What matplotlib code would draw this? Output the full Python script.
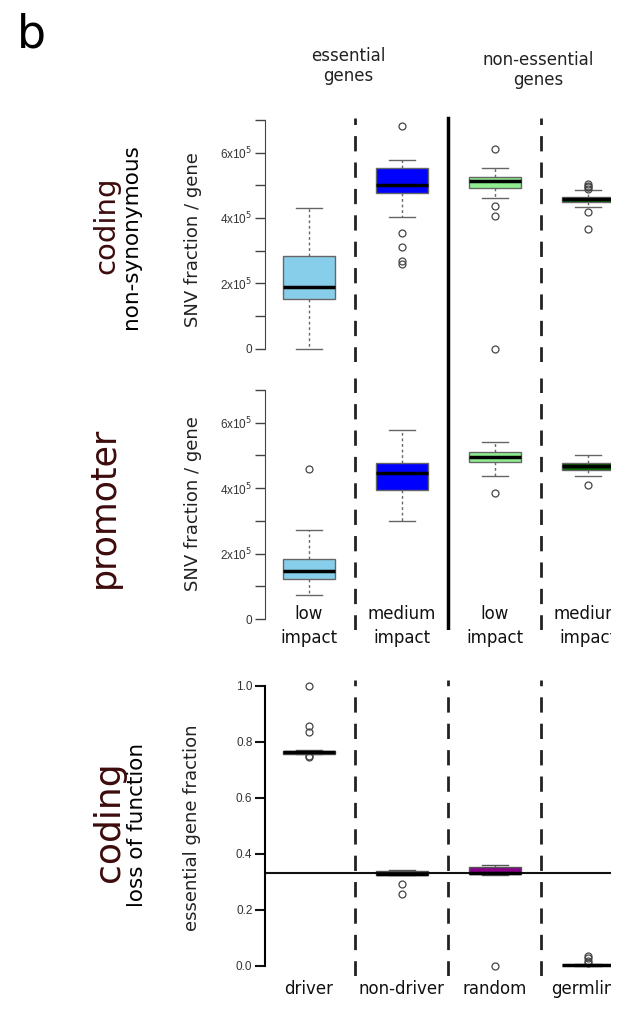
import numpy as np
import matplotlib.pyplot as plt
from matplotlib.patches import Rectangle

plt.rcParams['font.family'] = 'DejaVu Sans'

### data (units of 1e5 for the SNV panels)
pos = [1, 2, 3, 4]

# coding, non-synonymous : whislo, q1, med, q3, whishi
cod_stats = [[0.0, 1.53, 1.89, 2.84, 4.30],
             [4.02, 4.77, 5.01, 5.54, 5.78],
             [4.60, 4.92, 5.14, 5.24, 5.52],
             [4.32, 4.48, 4.57, 4.65, 4.86]]
cod_fliers = [[],
              [6.82, 3.53, 3.10, 2.69, 2.59],
              [6.11, 4.35, 4.06, 0.0],
              [5.03, 4.97, 4.93, 4.88, 4.17, 3.66]]

# promoter
pro_stats = [[0.73, 1.22, 1.48, 1.84, 2.72],
             [3.00, 3.95, 4.45, 4.78, 5.78],
             [4.37, 4.81, 4.95, 5.11, 5.42],
             [4.37, 4.56, 4.68, 4.78, 5.02]]
pro_fliers = [[4.59], [], [3.85], [4.09]]

# coding, loss of function (essential gene fraction)
lof_stats = [[0.757, 0.758, 0.764, 0.768, 0.770],
             [0.324, 0.325, 0.327, 0.340, 0.342],
             [0.326, 0.327, 0.331, 0.353, 0.360],
             [0.000, 0.002, 0.003, 0.005, 0.007]]
lof_fliers = [[1.0, 0.857, 0.836, 0.75, 0.745],
              [0.294, 0.256],
              [0.0],
              [0.035, 0.027, 0.018, 0.012]]
lof_expected = 1/3

snv_colors = ['skyblue', 'blue', 'lightgreen', 'darkgreen']
lof_colors = ['#333333', '#bebebe', '#8b008b', '#333333']
snv_labels = ['low\nimpact', 'medium\nimpact', 'low\nimpact', 'medium\nimpact']
lof_labels = ['driver', 'non-driver', 'random', 'germline']

W, H = 621, 1014
fig = plt.figure(figsize=(W/100, H/100), dpi=100)

def box_ax(top, bot):
    # axes from pixel rows (top, bot), left spine at x=265 px
    return fig.add_axes([265/W, 1-bot/H, 1-265/W, (bot-top)/H])

def draw_boxes(ax, stats, fliers, colors, edge):
    bx = []
    for s, f in zip(stats, fliers):
        bx.append(dict(whislo=s[0], q1=s[1], med=s[2], q3=s[3], whishi=s[4], fliers=f))
    ax.bxp(bx, positions=pos, widths=0.56, capwidths=0.28, patch_artist=True,
           boxprops=dict(edgecolor=edge, linewidth=1),
           medianprops=dict(color='black', linewidth=2.5),
           whiskerprops=dict(color=edge, linewidth=1, linestyle=(0, (2, 2))),
           capprops=dict(color=edge, linewidth=1),
           flierprops=dict(marker='o', markersize=5, markerfacecolor='none',
                           markeredgecolor='#444444', markeredgewidth=0.9))
    for p, c in zip(ax.patches, colors):
        p.set_facecolor(c)
    ax.set_xlim(0.53, 0.53 + (W-265)/93.0)
    ax.set_xticks([])
    for s in ['top', 'right', 'bottom']:
        ax.spines[s].set_visible(False)

def snv_axis(ax, ylim):
    ax.set_ylim(*ylim)
    ax.set_yticks(np.arange(0, 8))
    ax.set_yticklabels(['0', '', r'2x10$^5$', '', r'4x10$^5$', '', r'6x10$^5$', ''],
                       fontsize=8.5, family='Liberation Sans', color='#333333')
    ax.tick_params(axis='y', length=7, width=1, color='#444444', pad=2)
    ax.spines['left'].set_bounds(0, 7)
    ax.spines['left'].set_color('#444444')
    ax.text(-0.202, 0.5, 'SNV fraction / gene', transform=ax.transAxes,
            rotation=90, ha='center', va='center', fontsize=13, color='#222222')
    for x in [1.5, 3.5]:
        ax.axvline(x, color='#222222', linewidth=2, dashes=(5.5, 4))

dash = dict(color='#222222', linewidth=2, dashes=(5.5, 4))

### coding non-synonymous
ax1 = box_ax(118, 362)
draw_boxes(ax1, cod_stats, cod_fliers, snv_colors, '#666666')
snv_axis(ax1, ((348.7-362)/32.7, (348.7-118)/32.7))
ax1.axvline(2.5, ymin=-16/244, ymax=1, color='black', linewidth=2.5, clip_on=False)

### promoter
ax2 = box_ax(378, 630)
draw_boxes(ax2, pro_stats, pro_fliers, snv_colors, '#666666')
snv_axis(ax2, ((619-630)/32.7, (619-378)/32.7))
ax2.axvline(2.5, color='black', linewidth=2.5)
for p, lab in zip(pos, snv_labels):
    ax2.text(p, 0.016, lab, transform=ax2.get_xaxis_transform(), ha='center',
             va='center', fontsize=12, linespacing=1.4, color='#111111')

### loss of function
ax3 = box_ax(680, 976)
draw_boxes(ax3, lof_stats, lof_fliers, lof_colors, '#555555')
ax3.set_ylim((966-976)/280, (966-680)/280)
ax3.set_yticks(np.arange(0, 1.01, 0.2))
ax3.set_yticklabels(['0.0', '0.2', '0.4', '0.6', '0.8', '1.0'], fontsize=8.5,
                    family='Liberation Sans', color='#333333')
ax3.tick_params(axis='y', length=7, width=1.5, color='#111111', pad=2)
ax3.spines['left'].set_bounds(0, 1)
ax3.spines['left'].set_linewidth(1.5)
for x in [1.5, 2.5, 3.5]:
    ax3.axvline(x, **dash)
ax3.axhline(lof_expected, color='#111111', linewidth=1.5)
ax3.text(-0.205, 0.5, 'essential gene fraction', transform=ax3.transAxes,
         rotation=90, ha='center', va='center', fontsize=13, color='#222222')
for p, lab in zip(pos, lof_labels):
    ax3.text(p, -0.044, lab, transform=ax3.get_xaxis_transform(), ha='center',
             va='center', fontsize=12, color='#111111')

### row / column titles
dark = '#3d0b0b'
fig.text(106/W, 1-225/H, 'coding', rotation=90, ha='center', va='center', fontsize=21, color=dark)
fig.text(131/W, 1-237/H, 'non-synonymous', rotation=90, ha='center', va='center', fontsize=15.5)
fig.text(104/W, 1-507/H, 'promoter', rotation=90, ha='center', va='center', fontsize=25, color=dark)
fig.text(109/W, 1-822/H, 'coding', rotation=90, ha='center', va='center', fontsize=26, color=dark)
fig.text(137/W, 1-825/H, 'loss of function', rotation=90, ha='center', va='center', fontsize=15.5)

fig.text(348/W, 1-66/H, 'essential\ngenes', ha='center', va='center', fontsize=12, color='#222222')
fig.text(538/W, 1-70/H, 'non-essential\ngenes', ha='center', va='center', fontsize=12, color='#222222')
fig.text(17/W, 1-48/H, 'b', ha='left', va='baseline', fontsize=33)

# the original panel is cut off on the right
fig.add_artist(Rectangle((611/W, 0), 1-611/W, 1, transform=fig.transFigure,
                         facecolor='white', edgecolor='none', zorder=100))

fig.savefig('out.png', dpi=100)
